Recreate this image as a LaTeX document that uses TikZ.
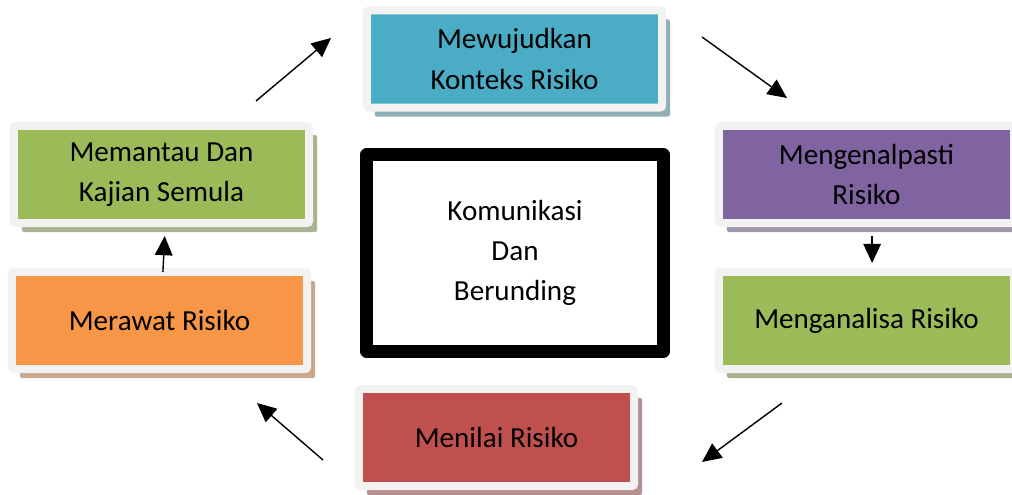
\documentclass[tikz,border=0pt]{standalone}
\usepackage{fontspec}
\setmainfont{Carlito}
\usepackage{tikz}
\usetikzlibrary{arrows.meta, shadows, calc}
\definecolor{aquabox}{HTML}{4BACC6}
\definecolor{greenbox}{HTML}{9BBB59}
\definecolor{purplebox}{HTML}{8064A2}
\definecolor{orangebox}{HTML}{F79646}
\definecolor{redbox}{HTML}{C0504D}
\definecolor{framegray}{HTML}{F2F2F2}

\begin{document}
\begin{tikzpicture}[
    x=0.025cm, y=-0.025cm,
    stage/.style={draw=framegray, line width=0.2cm, fill=#1, rounded corners=0.05cm,
        minimum width=7.375cm, minimum height=2.425cm, align=center,
        font=\fontsize{20.7}{28.5}\selectfont,
        drop shadow={shadow xshift=0.2cm, shadow yshift=-0.225cm, fill=#1!45!gray, opacity=0.75}},
    hub/.style={draw=black, line width=0.325cm, line join=round, fill=white,
        minimum width=7.425cm, minimum height=4.9cm, align=center,
        font=\fontsize{20.7}{28.5}\selectfont},
    flow/.style={-{Triangle[length=0.48cm, width=0.44cm]}, line width=1pt, black}
]
    \useasboundingbox (0,0) rectangle (1012,494);
    \clip (0,0) rectangle (1012,494);

    % Stages of the cycle
    \node[stage=aquabox] (konteks) at (514.5,59) {Mewujudkan\\Konteks Risiko};
    \node[stage=purplebox] (kenal) at (866.5,174.5) {Mengenalpasti\\Risiko};
    \node[stage=greenbox] (analisa) at (866.5,320.5) {Menganalisa Risiko};
    \node[stage=redbox, minimum width=6.875cm] (nilai) at (496.5,437.5) {Menilai Risiko};
    \node[stage=orangebox] (rawat) at (159.5,320.5) {Merawat Risiko};
    \node[stage=greenbox] (pantau) at (161.5,174.5) {Memantau Dan\\Kajian Semula};

    % Centre
    \node[hub] (komunikasi) at (515,253) {Komunikasi\\Dan\\Berunding};

    % Free arrow ends
    \coordinate (tl1) at (256,101);
    \coordinate (tl2) at (331,38);
    \coordinate (tr1) at (702,37);
    \coordinate (tr2) at (787,98);
    \coordinate (br1) at (782,403);
    \coordinate (br2) at (702,462);
    \coordinate (bl1) at (323,460);
    \coordinate (bl2) at (257,403);

    % Arrows
    \draw[flow] (tl1) -- (tl2);
    \draw[flow] (tr1) -- (tr2);
    \draw[flow, shorten <=0.225cm, shorten >=0.125cm] ([xshift=0.14cm]kenal.south) -- ([xshift=0.14cm]analisa.north);
    \draw[flow] (br1) -- (br2);
    \draw[flow] (bl1) -- (bl2);
    \draw[flow, shorten <=-0.1cm, shorten >=0.225cm] ([xshift=0.09cm]rawat.north) -- ([xshift=0.09cm]pantau.south);
\end{tikzpicture}
\end{document}
